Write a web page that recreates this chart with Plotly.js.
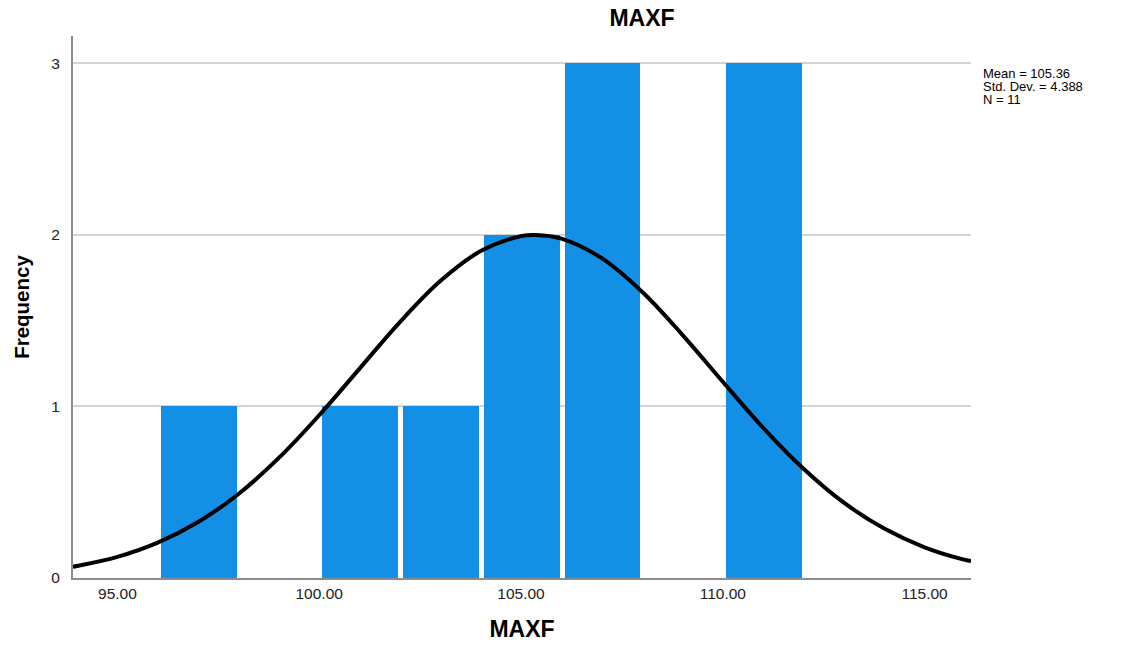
<!DOCTYPE html>
<html>
<head>
<meta charset="utf-8">
<script src="https://cdn.plot.ly/plotly-3.0.1.min.js"></script>
<style>html,body{margin:0;padding:0;background:#fff;}#chart{width:1121px;height:646px;}</style>
</head>
<body>
<div id="chart"></div>
<script>
// Histogram bins (bin centres, width 2) and counts
const binCenters = [97, 99, 101, 103, 105, 107, 109, 111];
const counts = [1, 0, 1, 1, 2, 3, 0, 3];
// Normal curve points
const curveX = [93.9, 94, 95, 96, 97, 98, 99, 100, 101, 102, 103, 104, 105, 105.36, 106, 107, 108, 109, 110, 111, 112, 113, 114, 115, 116, 116.15];
const curveY = [0.066, 0.070, 0.123, 0.206, 0.326, 0.490, 0.700, 0.949, 1.221, 1.492, 1.731, 1.906, 1.993, 2.0, 1.979, 1.865, 1.669, 1.418, 1.144, 0.876, 0.637, 0.439, 0.288, 0.179, 0.106, 0.099];
const xTickVals = [95, 100, 105, 110, 115];
const xTickText = ["95.00", "100.00", "105.00", "110.00", "115.00"];
const yTickVals = [0, 1, 2, 3];
const statsLines = ["Mean = 105.36", "Std. Dev. = 4.388", "N = 11"];

const font = "Liberation Sans, Arial, sans-serif";
const narrow = "Liberation Sans Narrow, Arial Narrow, Liberation Sans, sans-serif";

const traces = [
  {
    type: "bar",
    x: binCenters,
    y: counts,
    width: 1.88,
    offset: -0.92,
    marker: { color: "#138fe6", line: { width: 0 } },
    hoverinfo: "x+y"
  },
  {
    type: "scatter",
    mode: "lines",
    x: curveX,
    y: curveY,
    line: { color: "#000000", width: 4, shape: "spline", smoothing: 1 },
    hoverinfo: "skip"
  }
];

const statsY = [0.9317, 0.9072, 0.8825];
const annotations = statsLines.map((t, i) => ({
  xref: "paper", yref: "paper",
  x: 1.0122, y: statsY[i], xanchor: "left", yanchor: "middle",
  align: "left", showarrow: false,
  borderpad: 0,
  text: t,
  font: { family: font, size: 13, color: "#000000" }
}));

const layout = {
  width: 1121,
  height: 646,
  margin: { l: 73, r: 150, t: 36, b: 68 },
  paper_bgcolor: "#ffffff",
  plot_bgcolor: "#ffffff",
  showlegend: false,
  bargap: 0,
  font: { family: font, color: "#000000" },
  title: {
    text: "<b>MAXF</b>",
    font: { family: font, size: 23, color: "#000000" },
    x: 0.5727, xref: "container", xanchor: "center",
    y: 0.9717, yref: "container", yanchor: "middle"
  },
  xaxis: {
    range: [93.9, 116.15],
    tickvals: xTickVals,
    ticktext: xTickText,
    ticks: "",
    showgrid: false,
    zeroline: false,
    showline: true,
    linecolor: "#8c8c8c",
    linewidth: 2,
    tickfont: { family: font, size: 15.5, color: "#222222" },
    title: { text: "<b>MAXF</b>", font: { family: font, size: 23, color: "#000000" }, standoff: 20 }
  },
  yaxis: {
    range: [0, 3.16],
    tickvals: yTickVals,
    ticks: "",
    showgrid: true,
    gridcolor: "#d4d4d4",
    gridwidth: 2,
    zeroline: false,
    showline: true,
    linecolor: "#8c8c8c",
    linewidth: 2,
    ticklabelstandoff: 8,
    tickfont: { family: font, size: 15.5, color: "#222222" },
    title: { text: "<b>Frequency</b>", font: { family: narrow, size: 20.5, color: "#000000" }, standoff: 16 }
  },
  annotations: annotations
};

Plotly.newPlot("chart", traces, layout, { displayModeBar: false, staticPlot: true });
</script>
</body>
</html>
